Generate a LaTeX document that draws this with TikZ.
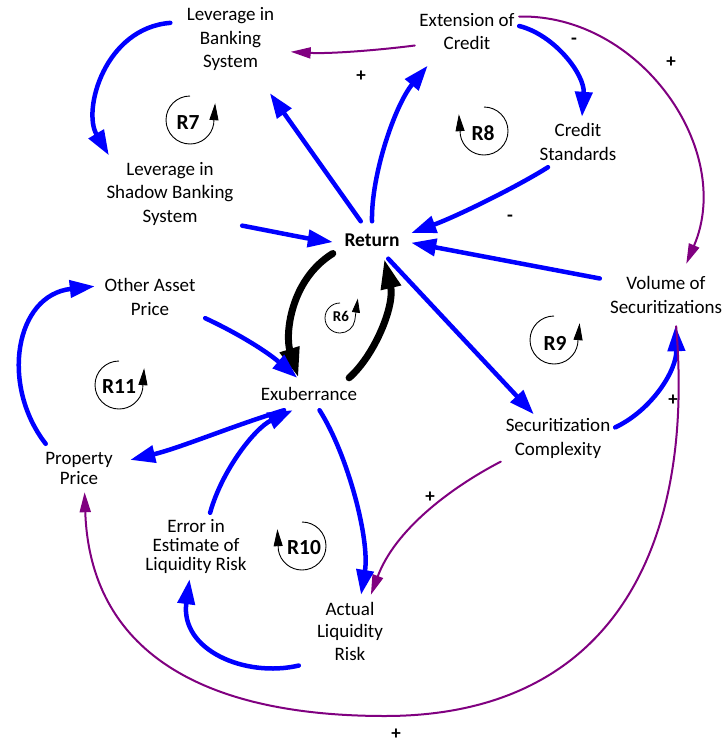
\documentclass[tikz,border=0pt]{standalone}
\usepackage{fontspec}
\setmainfont{Carlito}
\usetikzlibrary{arrows.meta}
\definecolor{cldpurple}{RGB}{128,0,128}
\definecolor{cldblue}{RGB}{0,0,255}
\begin{document}
\begin{tikzpicture}[x=1pt,y=-1pt,
  var/.style={inner sep=0pt, align=center, font=\fontsize{19}{23.5}\selectfont},
  sign/.style={inner sep=0pt, font=\bfseries\fontsize{19}{19}\selectfont},
  looplabel/.style={inner sep=0pt, font=\bfseries\fontsize{21.5}{21.5}\selectfont},
  blueline/.style={draw=cldblue, line width=4.5pt, line cap=round, -{Triangle[length=25pt,width=17pt]}},
  blackline/.style={draw=black, line width=7pt, line cap=round, -{Triangle[length=30pt,width=19pt]}},
  purpleline/.style={draw=cldpurple, line width=2pt, line cap=round, -{Triangle[length=20pt,width=11pt]}},
  loopmark/.style={draw=black, line width=0.9pt, -{Triangle[length=17pt,width=9pt]}},
  smallloopmark/.style={draw=black, line width=0.8pt, -{Triangle[length=14pt,width=8pt]}}
]
\path[use as bounding box, fill=white] (0,0) rectangle (725,744);

% variables
\node[var, minimum width=120pt, minimum height=108pt] (lbs) at (230.5,39) {Leverage in\\Banking\\System};
\node[var, minimum width=104pt, minimum height=68pt] (eoc) at (467,31.5) {Extension of\\Credit};
\node[var, minimum width=80pt, minimum height=50pt] (cs) at (578,142) {Credit\\Standards};
\node[var, minimum width=144pt, minimum height=76pt] (lsbs) at (170,193.5) {Leverage in\\Shadow Banking\\System};
\node[var, minimum width=78pt, minimum height=37pt, font=\bfseries\fontsize{19.5}{23.5}\selectfont] (ret) at (372,240) {Return};
\node[var, minimum width=132pt, minimum height=62pt] (vos) at (666,295) {Volume of\\Securitizations};
\node[var, minimum width=110pt, minimum height=44pt] (oap) at (150,297) {Other Asset\\Price};
\node[var, minimum width=104pt, minimum height=32pt] (exu) at (309,394) {Exuberrance};
\node[var, minimum width=102pt, minimum height=48pt, font=\fontsize{19}{20}\selectfont] (pp) at (79,468) {Property\\Price};
\node[var, minimum width=114pt, minimum height=48pt] (sc) at (558,438.5) {Securitization\\Complexity};
\node[var, minimum width=112pt, minimum height=66pt, font=\fontsize{19}{19}\selectfont] (eelr) at (196,546) {Error in\\Estimate of\\Liquidity Risk};
\node[var, minimum width=102pt, minimum height=72pt, font=\fontsize{19}{22.5}\selectfont] (alr) at (350,631) {Actual\\Liquidity\\Risk};
\coordinate (vbot) at (385,716);

% connectors
\draw[blueline] (lbs.165) .. controls (105,28) and (82,110) .. (lsbs.148);
\draw[blueline] (ret.121) -- (lbs.-54);
\draw[blueline] (lsbs.-24) .. controls (270,231) and (305,238) .. (ret.183);
\draw[blueline] (ret.90) .. controls (371,175) and (395,105) .. (eoc.-139);
\draw[blueline] (eoc.6) .. controls (555,35) and (585,75) .. (cs.81);
\draw[blueline] (cs.-140) .. controls (520,185) and (460,215) .. (ret.10);
\draw[purpleline] (eoc.-165) .. controls (380,50) and (330,54) .. (lbs.-12);
\draw[purpleline] (eoc.16) .. controls (640,14) and (735,150) .. (vos.57);
\draw[blueline] (vos.166) -- (ret.-4);
\draw[blueline] (ret.-49) -- (sc.135);
\draw[blueline] (sc.11) .. controls (652,410) and (677,370) .. (vos.-73);
\draw[purpleline] (vos.-72) .. controls (695,550) and (610,716) .. (vbot) .. controls (200,716) and (90,650) .. (pp.-77);
\draw[purpleline] (sc.-158) .. controls (450,488) and (395,530) .. (alr.60);
\draw[blackline] (ret.-161) .. controls (290,280) and (285,335) .. (exu.123);
\draw[blackline] (exu.22) .. controls (375,355) and (395,305) .. (ret.-57);
\draw[blueline] (oap.-21) .. controls (235,332) and (265,350) .. (exu.126);
\draw[blueline] (pp.144) .. controls (0,385) and (15,295) .. (oap.169);
\draw[blueline] (exu.-147) .. controls (235,425) and (180,448) .. (pp.9);
\draw[blueline] (eelr.67) .. controls (222,470) and (255,428) .. (exu.-135);
\draw[blueline] (exu.-57) .. controls (348,455) and (370,540) .. (alr.73);
\draw[blueline] (alr.-146) .. controls (245,678) and (180,650) .. (eelr.-101);

% polarity signs
\node[sign] (s1) at (361,76) {+};
\node[sign] (s2) at (574,41) {-};
\node[sign] (s3) at (510,218) {-};
\node[sign] (s4) at (671,62) {+};
\node[sign] (s5) at (673,400) {+};
\node[sign] (s6) at (430,497) {+};
\node[sign] (s7) at (396,734) {+};

% loop markers
\node[looplabel] (r7) at (188,123) {R7};
\draw[loopmark] (190,96) arc[start angle=-90, end angle=-350, radius=24] -- ++(1.5,-21);
\node[looplabel] (r8) at (483,133) {R8};
\draw[loopmark] (484,107) arc[start angle=-90, end angle=170, radius=24] -- ++(-1.5,-21);
\node[looplabel] (r11) at (119,387) {R11};
\draw[loopmark] (119,361) arc[start angle=-90, end angle=-350, radius=24] -- ++(1.5,-21);
\node[looplabel] (r9) at (555,343) {R9};
\draw[loopmark] (554,316) arc[start angle=-90, end angle=-350, radius=24] -- ++(2,-21);
\node[looplabel] (r10) at (304,548) {R10};
\draw[loopmark] (302,522) arc[start angle=-90, end angle=170, radius=24] -- ++(-1,-21);
\node[inner sep=0pt, font=\bfseries\fontsize{15}{15}\selectfont] (r6) at (341,316) {R6};
\draw[smallloopmark] (340,303) arc[start angle=-90, end angle=-350, radius=15] -- ++(3,-22);
\end{tikzpicture}
\end{document}
